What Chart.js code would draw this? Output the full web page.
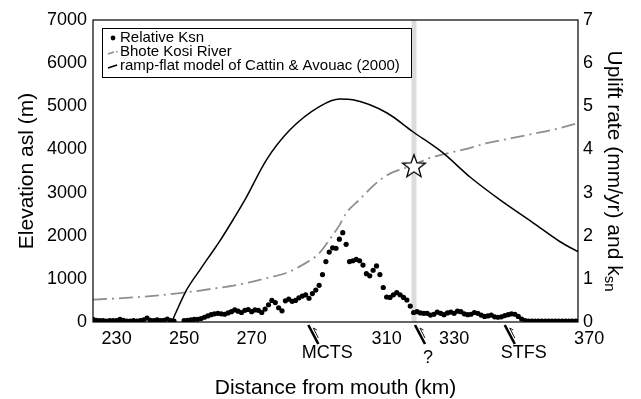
<!DOCTYPE html>
<html lang="en">
<head>
<meta charset="UTF-8">
<title>Bhote Kosi River profile</title>
<script src="https://cdn.jsdelivr.net/npm/chart.js"></script>
<style>
  html, body { margin: 0; padding: 0; background: #fff; }
  canvas { display: block; }
</style>
</head>
<body>
<canvas id="profileChart" width="641" height="399"></canvas>
<script>
const FONT = '"Liberation Sans", Arial, Helvetica, sans-serif';

// x axis (distance from mouth, km)
const xTicks = [230, 250, 270, 310, 330, 370];
const xMin = 223;
const xMax = 366.7;

// Bhote Kosi River long profile (elevation asl, m)
const riverKm   = [223, 230, 240, 250, 260, 265, 270, 275, 280, 285, 290, 293, 296, 298, 302, 305, 308, 311, 314, 318, 322, 328, 334, 340, 347, 354, 360, 366.7];
const riverElev = [520, 545, 600, 680, 790, 850, 930, 1030, 1130, 1320, 1590, 1900, 2240, 2520, 2840, 3080, 3290, 3440, 3530, 3640, 3780, 3910, 4020, 4150, 4260, 4370, 4470, 4610];

// ramp-flat model of Cattin & Avouac (2000), uplift rate (mm/yr)
const upliftKm   = [246.3, 250.7, 254.7, 258.5, 260.6, 264.5, 268.0, 274.4, 281.3, 290.2, 296.1, 300.0, 310.0, 317.8, 326.7, 334.7, 343.6, 353.4, 361.4, 366.7];
const upliftRate = [0, 0.74, 1.21, 1.64, 1.88, 2.37, 2.83, 3.76, 4.45, 5.0, 5.17, 5.15, 4.85, 4.41, 3.92, 3.36, 2.83, 2.30, 1.86, 1.63];

// relative ksn
const ksnKm = [223, 224, 225, 226, 227, 228, 229, 230, 231, 232, 233, 234, 235, 236, 237, 238, 239, 240, 241, 242, 243, 244, 245, 246, 247,
  250, 251, 252, 253, 254, 255, 256, 257, 258, 259, 260, 261, 262, 263, 264, 265, 266, 267, 268, 269, 270, 271, 272, 273, 274, 275, 276, 277, 278, 279,
  280, 281, 282, 283, 284, 285, 286, 287, 288, 289, 290, 291, 292, 293, 294, 295, 296, 297, 298, 299, 300, 301, 302, 303, 304, 305, 306, 307, 308, 309,
  310, 311, 312, 313, 314, 315, 316, 317, 318, 319, 320, 321, 322, 323, 324, 325, 326, 327, 328, 329, 330, 331, 332, 333, 334, 335, 336, 337, 338, 339,
  340, 341, 342, 343, 344, 345, 346, 347, 348, 349, 350, 351, 352, 353, 354, 355, 356, 357, 358, 359, 360, 361, 362, 363, 364, 365, 366, 367];
const ksnVal = [0.06, 0.04, 0.03, 0.03, 0.02, 0.03, 0.03, 0.03, 0.06, 0.04, 0.02, 0.02, 0.03, 0.02, 0.03, 0.05, 0.09, 0.04, 0.03, 0.05, 0.03, 0.04, 0.07, 0.03, 0.02,
  0.03, 0.04, 0.05, 0.06, 0.06, 0.08, 0.11, 0.14, 0.17, 0.19, 0.20, 0.19, 0.18, 0.21, 0.24, 0.28, 0.25, 0.22, 0.27, 0.29, 0.24, 0.28, 0.27, 0.22, 0.30, 0.40, 0.50, 0.45, 0.33, 0.26,
  0.49, 0.53, 0.48, 0.50, 0.56, 0.60, 0.63, 0.55, 0.66, 0.74, 0.85, 1.10, 1.40, 1.62, 1.72, 1.71, 1.92, 2.07, 1.80, 1.40, 1.42, 1.45, 1.42, 1.32, 1.12, 1.07, 1.20, 1.30, 1.10, 0.80,
  0.58, 0.57, 0.63, 0.68, 0.63, 0.57, 0.51, 0.37, 0.22, 0.24, 0.21, 0.20, 0.20, 0.16, 0.18, 0.23, 0.20, 0.17, 0.21, 0.23, 0.20, 0.25, 0.24, 0.19, 0.17, 0.18, 0.22, 0.20, 0.16, 0.13,
  0.14, 0.16, 0.12, 0.11, 0.12, 0.15, 0.17, 0.19, 0.18, 0.13, 0.07, 0.03, 0.02, 0.02, 0.02, 0.02, 0.02, 0.02, 0.02, 0.02, 0.02, 0.02, 0.02, 0.02, 0.02, 0.02, 0.02, 0.02];

// star on the river profile and the grey band
const starKm = [318.1];
const starElev = [3620];
const bandKm = 318.1;

// faults under the x axis
const faultKm = [286.8, 318.4, 345.0];
const faultNames = ['MCTS', '?', 'STFS'];

const toXY = (xs, ys) => xs.map((x, i) => ({ x: x, y: ys[i] }));

// white five-point star used as point style
const starImg = document.createElement('canvas');
starImg.width = 28; starImg.height = 28;
(function () {
  const c = starImg.getContext('2d');
  c.beginPath();
  for (let i = 0; i < 10; i++) {
    const r = i % 2 === 0 ? 12 : 5;
    const a = -Math.PI / 2 + i * Math.PI / 5;
    const px = 14 + r * Math.cos(a), py = 15 + r * Math.sin(a);
    if (i === 0) c.moveTo(px, py); else c.lineTo(px, py);
  }
  c.closePath();
  c.fillStyle = '#fff';
  c.fill();
  c.lineWidth = 1.3;
  c.strokeStyle = '#000';
  c.stroke();
})();

const decor = {
  id: 'decor',
  beforeDatasetsDraw(chart) {
    const { ctx, chartArea: ca, scales } = chart;
    const bx = scales.x.getPixelForValue(bandKm);
    ctx.save();
    ctx.fillStyle = '#dcdcdc';
    ctx.fillRect(bx - 2.5, ca.top, 5, ca.bottom - ca.top);
    ctx.restore();
  },
  afterDatasetsDraw(chart) {
    const { ctx, chartArea: ca } = chart;
    ctx.save();
    ctx.strokeStyle = '#000';
    ctx.lineWidth = 1.2;
    ctx.strokeRect(ca.left, ca.top, ca.right - ca.left, ca.bottom - ca.top);
    ctx.restore();
  },
  afterDraw(chart) {
    const { ctx, chartArea: ca, scales } = chart;
    ctx.save();

    // fault symbols
    ctx.strokeStyle = '#000';
    ctx.fillStyle = '#000';
    ctx.font = '18px ' + FONT;
    ctx.textAlign = 'center';
    ctx.textBaseline = 'middle';
    faultKm.forEach((km, i) => {
      const x = scales.x.getPixelForValue(km);
      const y0 = ca.bottom + 3;
      ctx.lineWidth = 2.6;
      ctx.beginPath();
      ctx.moveTo(x, y0);
      ctx.lineTo(x + 10, y0 + 19);
      ctx.stroke();
      ctx.lineWidth = 0.9;
      ctx.beginPath();
      ctx.moveTo(x + 5, y0 + 3);
      ctx.lineTo(x + 10, y0 + 13);
      ctx.moveTo(x + 5, y0 + 3);
      ctx.lineTo(x + 8.5, y0 + 5);
      ctx.stroke();
      const ty = faultNames[i] === '?' ? ca.bottom + 36 : ca.bottom + 31;
      const tx = faultNames[i] === '?' ? x + 13 : x + 19;
      ctx.fillText(faultNames[i], tx, ty);
    });

    // right axis title with subscript
    const main = 'Uplift rate (mm/yr) and k';
    const sub = 'sn';
    ctx.font = '21px ' + FONT;
    const w1 = ctx.measureText(main).width;
    ctx.font = '15px ' + FONT;
    const w2 = ctx.measureText(sub).width;
    ctx.translate(614, (ca.top + ca.bottom) / 2);
    ctx.rotate(Math.PI / 2);
    ctx.textAlign = 'left';
    ctx.textBaseline = 'middle';
    const start = -(w1 + w2) / 2;
    ctx.font = '21px ' + FONT;
    ctx.fillText(main, start, 0);
    ctx.font = '15px ' + FONT;
    ctx.fillText(sub, start + w1, 5);
    ctx.restore();

    // legend box
    ctx.save();
    const lx = ca.left + 9, ly = ca.top + 8, lw = 309, lh = 49;
    ctx.fillStyle = '#fff';
    ctx.fillRect(lx, ly, lw, lh);
    ctx.strokeStyle = '#000';
    ctx.lineWidth = 1;
    ctx.strokeRect(lx + 0.5, ly + 0.5, lw, lh);
    const items = [chart.data.datasets[3], chart.data.datasets[2], chart.data.datasets[1]];
    ctx.font = '15px ' + FONT;
    ctx.textAlign = 'left';
    ctx.textBaseline = 'middle';
    items.forEach((ds, i) => {
      const y = ly + 10 + i * 14;
      if (i === 0) {
        ctx.fillStyle = '#000';
        ctx.beginPath();
        ctx.arc(lx + 11, y, 2.4, 0, Math.PI * 2);
        ctx.fill();
      } else if (i === 1) {
        ctx.strokeStyle = ds.borderColor;
        ctx.lineWidth = 1.4;
        ctx.beginPath();
        ctx.moveTo(lx + 6, y + 2);
        ctx.lineTo(lx + 12, y);
        ctx.stroke();
        ctx.fillStyle = ds.borderColor;
        ctx.fillRect(lx + 14, y - 1, 1.5, 1.5);
      } else {
        ctx.strokeStyle = '#000';
        ctx.lineWidth = 1.5;
        ctx.beginPath();
        ctx.moveTo(lx + 6, y + 2);
        ctx.lineTo(lx + 15, y - 1);
        ctx.stroke();
      }
      ctx.fillStyle = '#000';
      ctx.fillText(ds.label, lx + 18, y);
    });
    ctx.restore();
  }
};

const ctx = document.getElementById('profileChart').getContext('2d');
const tickFont = { family: FONT, size: 18 };

new Chart(ctx, {
  type: 'line',
  data: {
    datasets: [
      {
        label: 'star',
        data: toXY(starKm, starElev),
        yAxisID: 'y',
        showLine: false,
        pointStyle: starImg,
        pointRadius: 14,
        order: 0
      },
      {
        label: 'ramp-flat model of Cattin & Avouac (2000)',
        data: toXY(upliftKm, upliftRate),
        yAxisID: 'y2',
        borderColor: '#000',
        borderWidth: 1.5,
        pointRadius: 0,
        cubicInterpolationMode: 'monotone',
        order: 1
      },
      {
        label: 'Bhote Kosi River',
        data: toXY(riverKm, riverElev),
        yAxisID: 'y',
        borderColor: '#8f8f8f',
        borderWidth: 1.8,
        borderDash: [14, 5, 2, 5],
        pointRadius: 0,
        cubicInterpolationMode: 'monotone',
        order: 2
      },
      {
        label: 'Relative Ksn',
        data: toXY(ksnKm, ksnVal),
        yAxisID: 'y2',
        showLine: false,
        pointRadius: 2.6,
        pointBorderWidth: 0,
        pointBackgroundColor: '#000',
        pointBorderColor: '#000',
        order: 3
      }
    ]
  },
  options: {
    responsive: false,
    animation: false,
    events: [],
    layout: { padding: { top: 20, left: 0, right: 0, bottom: 0 } },
    plugins: { legend: { display: false }, tooltip: { enabled: false } },
    scales: {
      x: {
        type: 'linear',
        min: xMin,
        max: xMax,
        grid: { display: false, drawTicks: false },
        border: { display: false },
        afterBuildTicks: (s) => { s.ticks = xTicks.map(v => ({ value: v })); },
        afterFit: (s) => { s.height = 77; },
        ticks: { autoSkip: false, maxRotation: 0, padding: 6, color: '#000', font: tickFont, callback: v => String(v) },
        title: { display: true, text: 'Distance from mouth (km)', color: '#000', font: { family: FONT, size: 21, lineHeight: 1 }, padding: { top: 0, bottom: 0 } }
      },
      y: {
        position: 'left',
        min: 0,
        max: 7000,
        grid: { display: false, drawTicks: false },
        border: { display: false },
        afterFit: (s) => { s.width = 93; },
        ticks: { stepSize: 1000, padding: 6, color: '#000', font: tickFont, callback: v => String(v) },
        title: { display: true, text: 'Elevation asl (m)', color: '#000', font: { family: FONT, size: 21 }, padding: { top: 15, bottom: 0 } }
      },
      y2: {
        position: 'right',
        min: 0,
        max: 7,
        grid: { display: false, drawTicks: false },
        border: { display: false },
        afterFit: (s) => { s.width = 63; },
        ticks: { stepSize: 1, padding: 5, color: '#000', font: tickFont, callback: v => String(v) }
      }
    }
  },
  plugins: [decor]
});
</script>
</body>
</html>
